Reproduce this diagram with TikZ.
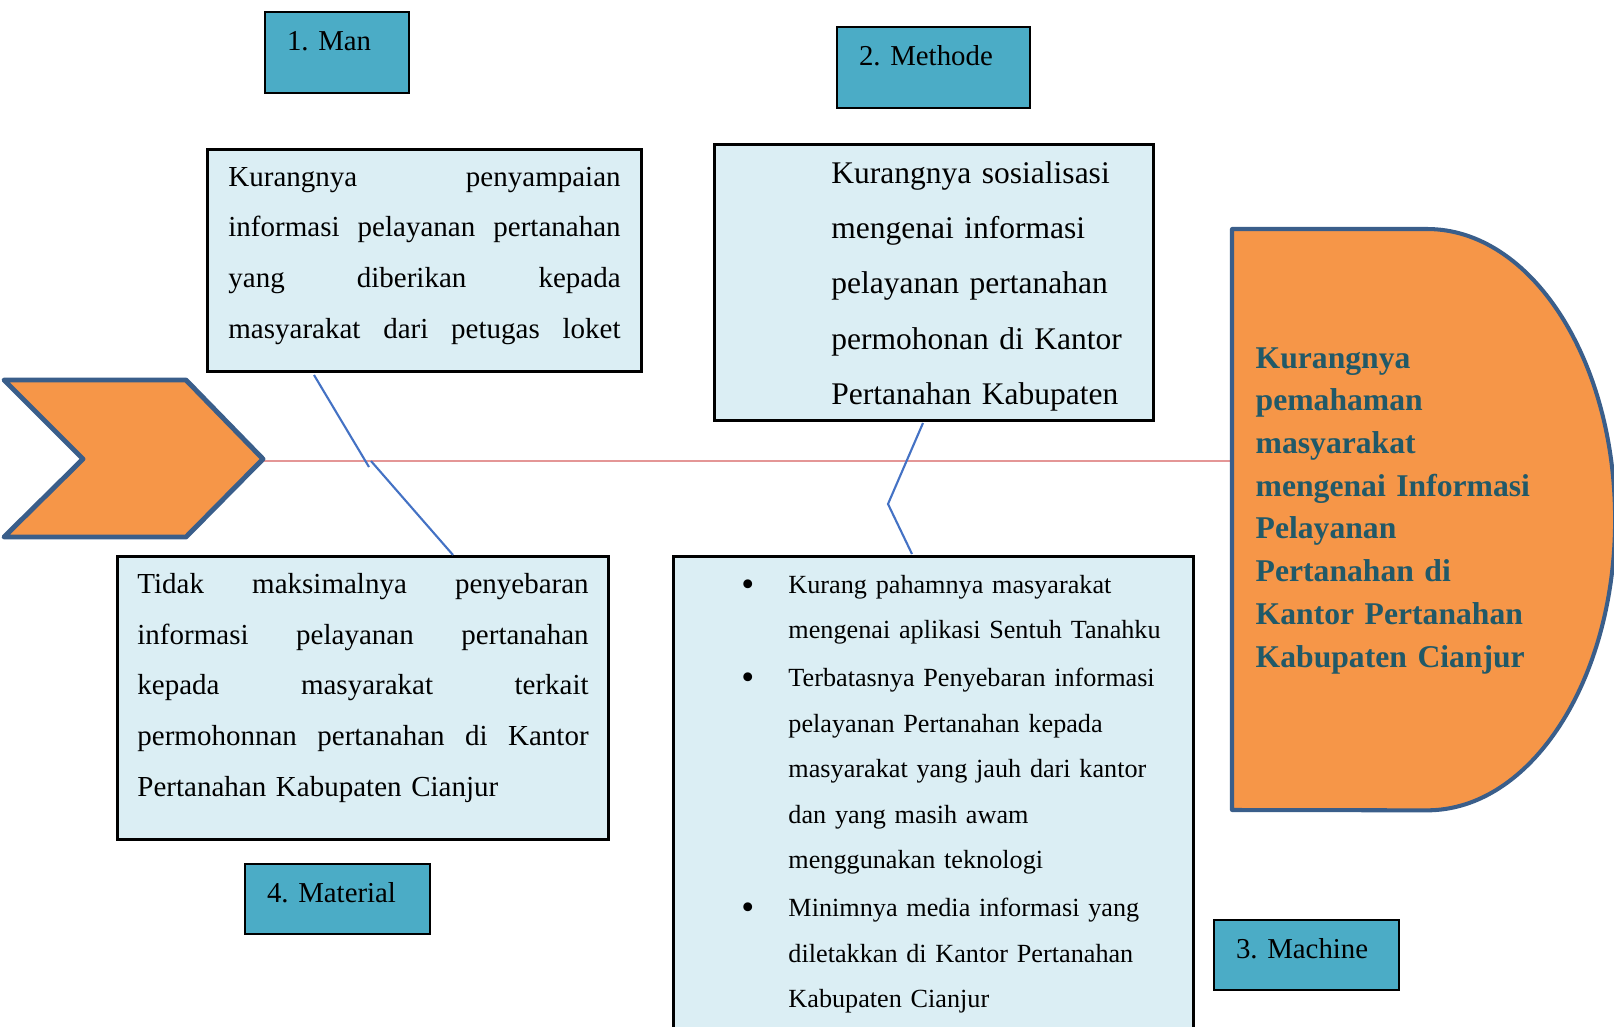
\documentclass[tikz,border=0pt]{standalone}
\usepackage{fontspec}
\setmainfont{Liberation Serif}
\frenchspacing
\definecolor{labelblue}{RGB}{75,172,198}
\definecolor{boxblue}{RGB}{219,238,244}
\definecolor{headorange}{RGB}{246,150,72}
\definecolor{headline}{RGB}{58,94,138}
\definecolor{headtext}{RGB}{33,89,104}
\definecolor{boneblue}{RGB}{68,114,196}
\definecolor{spinered}{RGB}{228,150,150}
\usetikzlibrary{positioning,calc}
\newcommand{\causedot}{\raisebox{-0.9pt}{\fontsize{10.5}{12}\selectfont\textbullet}}

\begin{document}
\begin{tikzpicture}[x=0.01cm,y=-0.01cm,
  catlabel/.style={draw=black,line width=0.6pt,fill=labelblue,anchor=north west,
    inner xsep=0.22cm,inner ysep=0pt,text height=0.385cm,align=left,text width=#1,
    font=\fontsize{8.2}{10}\selectfont},
  causebox/.style={draw=black,line width=0.8pt,fill=boxblue,anchor=north west,
    inner ysep=0pt,align=left,text height=0.37cm},
  bone/.style={draw=boneblue,line width=0.6pt},
  spine/.style={draw=spinered,line width=0.6pt}
]
  \useasboundingbox (0,0) rectangle (1614,1027);
  \clip (0,0) rectangle (1614,1027);
  % Spine
  \coordinate (tailtip) at (263,461);
  \coordinate (headin) at (1232,461);
  \draw[spine] (tailtip) -- (headin);
  % Tail
  \draw[fill=headorange,draw=headline,line width=1.4pt,line join=round]
    (4,380) -- (186,380) -- (263,459) -- (186,537) -- (4,537) -- (83,459) -- cycle;
  % Head
  \draw[fill=headorange,draw=headline,line width=1.15pt,line join=round]
    (1232,229) -- (1427,229)
    arc[start angle=90,end angle=-90,x radius=1.88cm,y radius=2.905cm]
    -- (1232,810) -- cycle;
  \node[anchor=base west,inner sep=0pt,text width=3.4cm,align=left,text=headtext,
    font=\fontsize{9.0}{12.15}\selectfont\bfseries] (effect) at (1255,368)
    {Kurangnya\\ pemahaman\\ masyarakat\\ mengenai Informasi\\ Pelayanan\\
     Pertanahan di\\ Kantor Pertanahan\\ Kabupaten Cianjur};
  % Categories
  \node[catlabel=1.0cm,text depth=0.42cm] (man) at (264,11) {1. Man};
  \node[catlabel=1.49cm,text depth=0.42cm] (methode) at (836,26) {2. Methode};
  \node[catlabel=1.41cm,text depth=0.315cm] (material) at (244,863) {4. Material};
  \node[catlabel=1.41cm,text depth=0.315cm] (machine) at (1213,919) {3. Machine};
  % Causes
  \node[causebox,text width=3.92cm,inner xsep=0.21cm,text depth=1.85cm,
    font=\fontsize{8.25}{14.37}\selectfont] (mantxt) at (206,148)
    {Kurangnya \hfill penyampaian\\
     informasi \hfill pelayanan \hfill pertanahan\\
     yang \hfill diberikan \hfill kepada\\
     masyarakat \hfill dari \hfill petugas \hfill loket};
  \node[causebox,text width=4.39cm,inner xsep=0pt,text height=0.39cm,text depth=2.37cm,
    font=\fontsize{8.96}{15.72}\selectfont] (methtxt) at (713,143)
    {\hspace*{1.17cm}Kurangnya sosialisasi\\
     \hspace*{1.17cm}mengenai informasi\\
     \hspace*{1.17cm}pelayanan pertanahan\\
     \hspace*{1.17cm}permohonan di Kantor\\
     \hspace*{1.17cm}Pertanahan Kabupaten};
  \node[causebox,text width=4.51cm,inner xsep=0.2cm,text depth=2.46cm,
    font=\fontsize{8.25}{14.44}\selectfont] (mattxt) at (116,555)
    {Tidak \hfill maksimalnya \hfill penyebaran\\
     informasi \hfill pelayanan \hfill pertanahan\\
     kepada \hfill masyarakat \hfill terkait\\
     permohonnan \hfill pertanahan \hfill di \hfill Kantor\\
     Pertanahan Kabupaten Cianjur};
  \node[causebox,text width=5.2cm,inner xsep=0pt,text depth=4.37cm,
    font=\fontsize{7.45}{12.95}\selectfont] (mactxt) at (672,555)
    {\begin{tabular}[t]{@{\hspace{0.68cm}}p{0.47cm}@{}l@{}}
      \causedot & Kurang pahamnya masyarakat\\
      & mengenai aplikasi Sentuh Tanahku\\[0.65pt]
      \causedot & Terbatasnya Penyebaran informasi\\
      & pelayanan Pertanahan kepada\\
      & masyarakat yang jauh dari kantor\\
      & dan yang masih awam\\
      & menggunakan teknologi\\[0.65pt]
      \causedot & Minimnya media informasi yang\\
      & \makebox[3.5cm][s]{diletakkan di Kantor Pertanahan}\\
      & Kabupaten Cianjur
    \end{tabular}};
  % Bones
  \coordinate (manend) at (314,375);
  \coordinate (manknee) at (369,467);
  \coordinate (matjoint) at (371,461);
  \coordinate (matend) at (453,555);
  \coordinate (methend) at (923,423);
  \coordinate (methknee) at (888,504);
  \coordinate (macend) at (912,554);
  \draw[bone] (manend) -- (manknee);
  \draw[bone] (matjoint) -- (matend);
  \draw[bone] (methend) -- (methknee) -- (macend);
\end{tikzpicture}
\end{document}
